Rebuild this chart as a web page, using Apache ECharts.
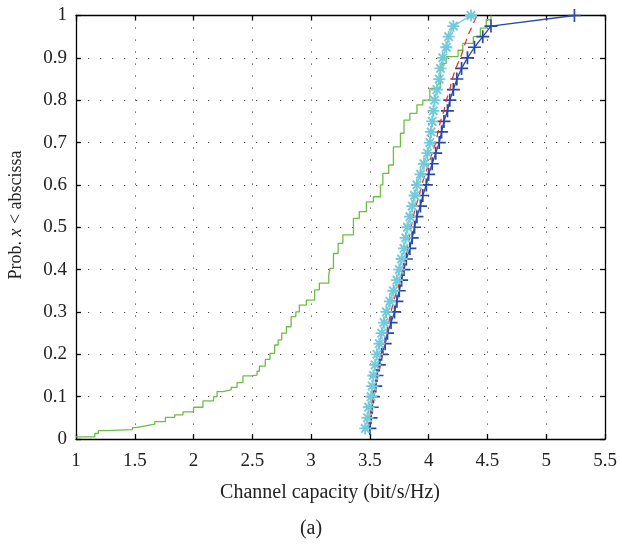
<!DOCTYPE html>
<html>
<head>
<meta charset="utf-8">
<script src="https://cdn.jsdelivr.net/npm/echarts@6/dist/echarts.min.js"></script>
<style>
html,body{margin:0;padding:0;background:#fff;}
#c{width:622px;height:546px;}
</style>
</head>
<body>
<div id="c"></div>
<script>
// probability levels (empirical CDF steps)
const probLevels = [0.025,0.05,0.075,0.1,0.125,0.15,0.175,0.2,0.225,0.25,0.275,0.3,0.325,0.35,0.375,0.4,0.425,0.45,0.475,0.5,0.525,0.55,0.575,0.6,0.625,0.65,0.675,0.7,0.725,0.75,0.775,0.8,0.825,0.85,0.875,0.9,0.925,0.95,0.975,1.0];
// blue "+" series capacities
const blueX = [3.50,3.51,3.52,3.53,3.55,3.56,3.58,3.60,3.63,3.65,3.68,3.71,3.73,3.75,3.77,3.79,3.81,3.84,3.86,3.88,3.90,3.93,3.95,3.98,4.00,4.03,4.06,4.09,4.11,4.13,4.16,4.18,4.21,4.24,4.28,4.33,4.39,4.46,4.53,5.24];
// red dashed series capacities
const redX = [3.48,3.50,3.51,3.53,3.55,3.57,3.59,3.61,3.63,3.645,3.66,3.68,3.70,3.73,3.76,3.78,3.80,3.82,3.835,3.85,3.87,3.89,3.92,3.94,3.97,4.00,4.03,4.06,4.08,4.10,4.13,4.15,4.18,4.20,4.23,4.27,4.30,4.33,4.37,4.41];
// cyan "*" series capacities
const cyanX = [3.46,3.48,3.49,3.51,3.52,3.53,3.545,3.56,3.58,3.60,3.62,3.64,3.67,3.70,3.73,3.75,3.77,3.79,3.805,3.82,3.84,3.86,3.88,3.90,3.93,3.96,3.99,4.01,4.02,4.03,4.04,4.05,4.07,4.09,4.10,4.12,4.15,4.17,4.21,4.36];
// green stepped CDF: jump positions and levels
const greenX = [1.00,1.16,1.19,1.26,1.48,1.51,1.59,1.67,1.76,1.84,1.91,2.00,2.08,2.17,2.20,2.25,2.32,2.37,2.42,2.49,2.54,2.56,2.61,2.65,2.69,2.72,2.75,2.79,2.83,2.87,2.90,2.96,3.03,3.07,3.15,3.16,3.19,3.23,3.27,3.36,3.41,3.47,3.53,3.59,3.61,3.66,3.70,3.76,3.79,3.84,3.90,3.95,4.01,4.10,4.12,4.15,4.25,4.29,4.38,4.44,4.49,4.53];
const greenY = [0.005,0.013,0.02,0.022,0.027,0.031,0.035,0.041,0.051,0.057,0.064,0.075,0.09,0.10,0.112,0.116,0.122,0.133,0.149,0.151,0.16,0.172,0.188,0.202,0.222,0.234,0.25,0.265,0.289,0.30,0.316,0.328,0.352,0.368,0.387,0.403,0.438,0.462,0.482,0.521,0.537,0.56,0.572,0.60,0.627,0.647,0.69,0.722,0.753,0.769,0.789,0.80,0.828,0.871,0.887,0.903,0.918,0.934,0.95,0.97,0.99,1.0];

const xTicks = {min:1, max:5.5, interval:0.5};
const yTicks = {min:0, max:1, interval:0.1};

const FONT = '"Liberation Serif", "DejaVu Serif", serif';
const pair = (xs, ys) => xs.map((x, i) => [x, ys[i]]);

const plusSym = 'path://M0,4.35H10V5.65H0Z M4.35,0H5.65V10H4.35Z';
const starSym = 'path://M0,4.25H10V5.75H0Z M4.25,0H5.75V10H4.25Z M2.07,0.93L9.07,7.93L7.93,9.07L0.93,2.07Z M7.93,0.93L9.07,2.07L2.07,9.07L0.93,7.93Z';

const fmt = v => String(+v.toFixed(1));
const gridDots = {show:true, lineStyle:{color:'#444', width:1, type:[1.2,10.8]}};

const chart = echarts.init(document.getElementById('c'), null, {renderer:'canvas'});
chart.setOption({
  animation:false,
  backgroundColor:'#fff',
  grid:{left:76, right:17, top:15.5, bottom:107, containLabel:false},
  xAxis:[
    {type:'value', min:xTicks.min, max:xTicks.max, interval:xTicks.interval, position:'bottom',
     axisLine:{show:true, onZero:false, lineStyle:{color:'#000', width:1.3}},
     axisTick:{show:true, inside:true, length:5, lineStyle:{color:'#000', width:1.3}},
     axisLabel:{show:true, color:'#222', fontFamily:FONT, fontSize:19, margin:13, formatter:fmt},
     splitLine:gridDots},
    {type:'value', min:xTicks.min, max:xTicks.max, interval:xTicks.interval, position:'top',
     axisLine:{show:true, onZero:false, lineStyle:{color:'#000', width:1.3}},
     axisTick:{show:true, inside:true, length:5, lineStyle:{color:'#000', width:1.3}},
     axisLabel:{show:false}, splitLine:{show:false}}
  ],
  yAxis:[
    {type:'value', min:yTicks.min, max:yTicks.max, interval:yTicks.interval, position:'left',
     axisLine:{show:true, onZero:false, lineStyle:{color:'#000', width:1.3}},
     axisTick:{show:true, inside:true, length:5, lineStyle:{color:'#000', width:1.3}},
     axisLabel:{show:true, color:'#222', fontFamily:FONT, fontSize:19, margin:9, formatter:fmt},
     splitLine:gridDots},
    {type:'value', min:yTicks.min, max:yTicks.max, interval:yTicks.interval, position:'right',
     axisLine:{show:true, onZero:false, lineStyle:{color:'#000', width:1.3}},
     axisTick:{show:true, inside:true, length:5, lineStyle:{color:'#000', width:1.3}},
     axisLabel:{show:false}, splitLine:{show:false}}
  ],
  series:[
    {type:'line', name:'green', data:pair(greenX, greenY), step:'end', showSymbol:false, symbol:'none',
     lineStyle:{color:'#6dbd45', width:1.3}, z:2},
    {type:'line', name:'blue', data:pair(blueX, probLevels), symbol:plusSym, symbolSize:13, showAllSymbol:true,
     itemStyle:{color:'#2a48a6'}, lineStyle:{color:'#2a48a6', width:1.3}, z:3},
    {type:'line', name:'red', data:pair(redX, probLevels), symbol:'none',
     lineStyle:{color:'#e8342c', width:1.3, type:[7,5]}, z:4},
    {type:'line', name:'cyan', data:pair(cyanX, probLevels), symbol:starSym, symbolSize:12, showAllSymbol:true,
     itemStyle:{color:'#72cadb'}, lineStyle:{color:'#72cadb', width:1.3}, z:5}
  ],
  graphic:[
    {type:'text', x:330, y:493, style:{text:'Channel capacity (bit/s/Hz)', font:'20px ' + FONT, fill:'#222', align:'center', verticalAlign:'middle'}},
    {type:'text', x:311, y:529, style:{text:'(a)', font:'20px ' + FONT, fill:'#222', align:'center', verticalAlign:'middle'}},
    {type:'text', x:16, y:215, rotation:Math.PI/2, style:{
      rich:{n:{font:'18px ' + FONT, fill:'#222'}, i:{font:'italic 18px ' + FONT, fill:'#222'}},
      text:'{n|Prob. }{i|x}{n| < abscissa}', align:'center', verticalAlign:'middle'}}
  ]
});
</script>
</body>
</html>
